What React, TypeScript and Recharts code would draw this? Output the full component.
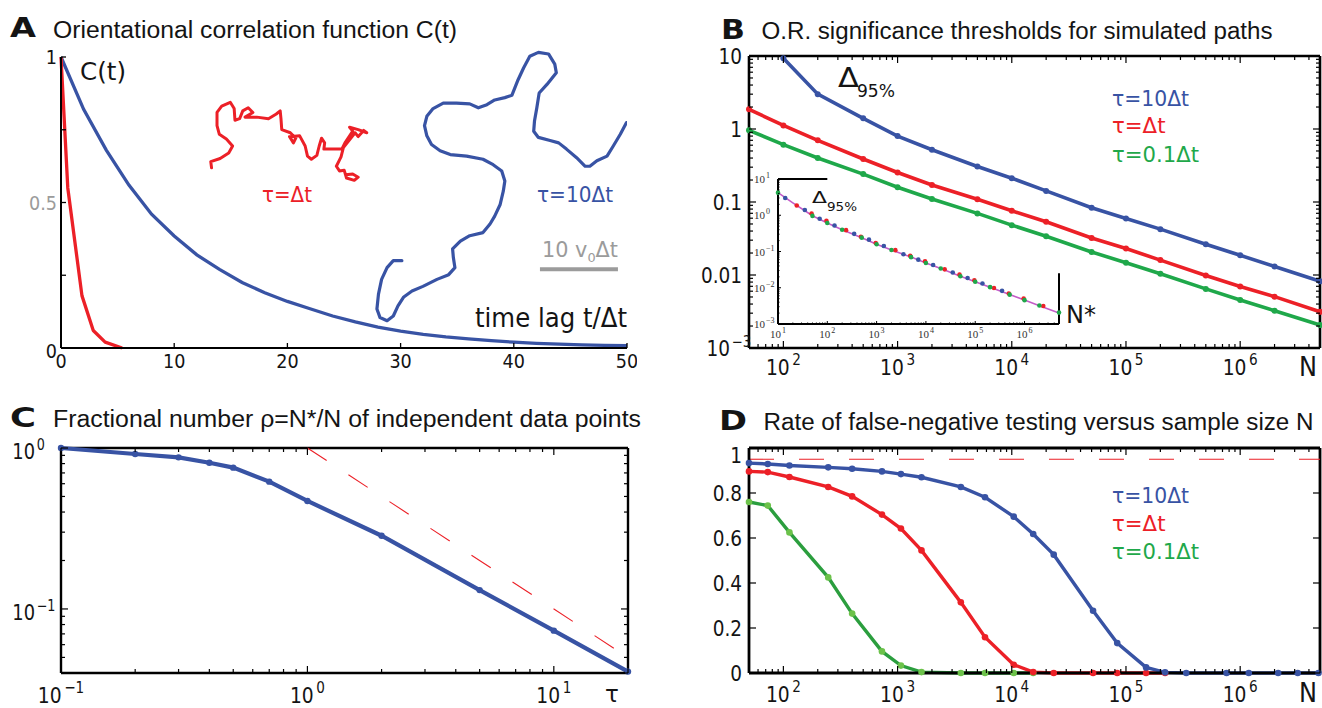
import React from 'react';
import { LineChart, Line, XAxis, YAxis, ReferenceLine } from 'recharts';

const FONT = '"DejaVu Sans", Verdana, sans-serif';
const TFONT = '"Liberation Sans", Arial, sans-serif';
const SERIF = '"Liberation Serif", "DejaVu Serif", serif';

const BLUE = '#3853a4';
const RED = '#ec2027';
const GREEN = '#1fa84a';
const GREEN_D = '#2b9e3e';
const GREEN_DOT = '#6cc24a';
const GREY = '#9b9b9b';
const MAGENTA = '#c45cc8';
const INK = '#141414';

// ---------------- Panel A data ----------------
const tA_blue = [0, 2, 4, 6, 8, 10, 12, 14, 16, 18, 20, 22, 24, 26, 28, 30, 32, 34, 36, 38, 40, 42, 44, 46, 48, 50];
const cA_blue = [1, 0.82, 0.68, 0.56, 0.46, 0.385, 0.32, 0.27, 0.225, 0.19, 0.16, 0.135, 0.11, 0.09, 0.072, 0.058, 0.047, 0.038, 0.031, 0.025, 0.02, 0.016, 0.013, 0.011, 0.009, 0.008];
const tA_red = [0, 0.6, 1.85, 2.85, 3.9, 5.4];
const cA_red = [1, 0.55, 0.18, 0.06, 0.02, 0];
// random-walk paths, in units of v0*dt
const walkRedU = [19.3, 19.2, 20.4, 21.5, 22.0, 21.2, 20.3, 20.0, 20.0, 20.6, 21.7, 22.2, 22.3, 22.9, 23.3, 24.0, 24.6, 23.6, 25.1, 26.6, 27.6, 28.1, 28.2, 28.3, 29.4, 30.1, 29.8, 29.3, 30.6, 31.3, 31.6, 32.1, 32.8, 33.1, 33.4, 33.8, 33.7, 34.7, 36.0, 36.4, 37.0, 37.4, 37.0, 38.1, 39.2, 38.8, 38.1, 37.7, 36.2, 35.9, 35.3, 35.7, 36.3, 36.6, 37.6, 38.1, 37.4, 36.5];
const walkRedV = [23.1, 23.9, 24.3, 25.0, 25.9, 26.8, 27.4, 28.5, 30.2, 31.0, 31.5, 30.7, 29.2, 29.4, 30.4, 30.8, 30.2, 29.6, 29.6, 29.4, 30.0, 30.4, 29.4, 28.0, 27.6, 26.9, 26.3, 27.1, 27.2, 25.9, 24.6, 24.2, 24.7, 25.9, 26.9, 26.3, 25.5, 25.5, 25.5, 26.3, 27.2, 27.8, 28.3, 28.0, 27.6, 27.9, 27.1, 27.6, 25.7, 24.5, 23.3, 22.7, 22.8, 21.8, 21.5, 21.9, 22.3, 22.2];
const walkBlueU = [43.7, 42.6, 41.8, 41.1, 40.7, 40.5, 40.9, 41.8, 42.6, 43.2, 43.9, 45.0, 46.4, 48.2, 49.7, 50.5, 50.3, 50.2, 51.2, 52.4, 54.1, 55.0, 55.6, 56.3, 56.7, 56.9, 56.5, 55.4, 54.1, 52.0, 49.9, 48.6, 47.5, 46.9, 46.6, 46.9, 47.7, 49.0, 50.7, 52.4, 53.5, 54.6, 55.6, 56.9, 57.8, 58.6, 59.3, 60.1, 61.2, 62.5, 63.3, 63.5, 62.3, 61.3, 61.0, 60.7, 60.6, 61.2, 62.7, 63.8, 64.8, 66.1, 67.2, 67.8, 68.7, 70.0, 70.8, 71.7, 72.5];
const walkBlueV = [11.2, 11.2, 10.3, 8.8, 6.9, 5.0, 3.9, 3.5, 4.1, 5.4, 6.5, 7.3, 7.9, 8.8, 9.4, 10.3, 11.6, 12.7, 13.7, 14.4, 14.8, 15.9, 16.9, 18.4, 20.1, 21.4, 22.7, 23.5, 24.2, 24.6, 24.8, 25.3, 26.1, 27.2, 28.5, 29.7, 30.7, 31.4, 31.4, 31.3, 30.8, 31.2, 31.8, 32.1, 32.4, 34.4, 35.9, 37.4, 37.9, 37.7, 36.4, 35.3, 33.8, 32.7, 30.8, 29.1, 27.8, 27.0, 26.6, 26.3, 25.5, 24.4, 23.3, 23.3, 24.0, 24.6, 25.9, 27.4, 28.9];
const scaleBarU = [61.4, 71.4];
const scaleBarV = [10.1, 10.1];
const ticksAx = [0, 10, 20, 30, 40, 50];
const ticksAy = [0, 0.25, 0.5, 0.75, 1];

// ---------------- Panel B data ----------------
const nB = [50, 100, 200, 500, 1000, 2000, 5000, 10000, 20000, 50000, 100000, 200000, 500000, 1000000, 2000000, 5000000];
const nB_blue = [100, 200, 500, 1000, 2000, 5000, 10000, 20000, 50000, 100000, 200000, 500000, 1000000, 2000000, 5000000];
const deltaBlue = [9.3, 3.0, 1.4, 0.8, 0.52, 0.307, 0.212, 0.142, 0.0836, 0.0596, 0.0425, 0.0264, 0.0186, 0.0131, 0.0082];
const deltaRed = [1.86, 1.12, 0.7, 0.388, 0.254, 0.171, 0.109, 0.0758, 0.0535, 0.0322, 0.023, 0.016, 0.00984, 0.00694, 0.00505, 0.00314];
const deltaGreen = [0.96, 0.61, 0.4, 0.241, 0.159, 0.11, 0.0698, 0.0482, 0.034, 0.0207, 0.0147, 0.0104, 0.00645, 0.00455, 0.00324, 0.00206];
// inset: Delta_95% versus N*
const insetLineN = [10, 20, 50, 100, 200, 500, 1000, 2000, 5000, 10000, 20000, 50000, 100000, 200000, 500000, 1000000, 2000000, 5000000];
const insetLineV = [4.2, 2.2, 0.97, 0.61, 0.4, 0.24, 0.159, 0.11, 0.07, 0.048, 0.034, 0.0207, 0.0147, 0.0104, 0.0065, 0.0046, 0.0032, 0.002];
const insetGreenN = [10, 50, 100, 200, 500, 1000, 2000, 5000, 10000, 20000, 50000, 100000, 200000, 500000, 1000000, 2000000, 5000000];
const insetGreenV = [4.2, 0.96, 0.61, 0.4, 0.241, 0.159, 0.11, 0.0698, 0.0482, 0.034, 0.0207, 0.0147, 0.0104, 0.00645, 0.00455, 0.00324, 0.00206];
const insetRedN = [24, 48, 96, 240, 480, 960, 2400, 4800, 9600, 24000, 48000, 96000, 240000, 480000, 960000, 2400000];
const insetRedV = [1.86, 1.12, 0.7, 0.388, 0.254, 0.171, 0.109, 0.0758, 0.0535, 0.0322, 0.023, 0.016, 0.00984, 0.00694, 0.00505, 0.00314];
const insetBlueN = [14, 35, 70, 140, 350, 700, 1400, 3500, 7000, 14000, 35000, 70000, 140000, 350000];
const insetBlueV = [3.0, 1.4, 0.8, 0.52, 0.307, 0.212, 0.142, 0.0836, 0.0596, 0.0425, 0.0264, 0.0186, 0.0131, 0.0082];

// ---------------- Panel C data ----------------
const tauC = [0.1, 0.2, 0.3, 0.4, 0.5, 0.7, 1, 2, 5, 10, 20];
const rhoC = [1.0, 0.918, 0.875, 0.81, 0.755, 0.618, 0.469, 0.285, 0.131, 0.0733, 0.0408];
const tauRef = [1, 19];
const rhoRef = [1, 0.0526];

// ---------------- Panel D data ----------------
const nD = [50, 73, 113, 247, 400, 730, 1070, 1620, 3580, 5830, 10400, 15400, 23300, 51500, 83800, 150000, 220000, 337000, 760000, 1190000, 2150000, 3190000, 4850000];
const fnBlue = [0.933, 0.929, 0.922, 0.914, 0.908, 0.896, 0.884, 0.87, 0.827, 0.781, 0.695, 0.618, 0.526, 0.277, 0.133, 0.025, 0.003, 0, 0, 0, 0, 0, 0];
const nD_red = [50, 73, 113, 247, 400, 730, 1070, 1620, 3580, 5830, 10400, 15400, 23300, 51500, 83800, 150000, 220000];
const fnRed = [0.896, 0.893, 0.871, 0.827, 0.785, 0.704, 0.642, 0.545, 0.314, 0.159, 0.037, 0.004, 0, 0, 0, 0, 0];
const nD_green = [50, 73, 113, 247, 400, 730, 1070, 1620, 3580, 5830, 10400, 15400];
const fnGreen = [0.76, 0.744, 0.625, 0.425, 0.264, 0.096, 0.033, 0.004, 0, 0, 0, 0];
const fnThreshold = 0.95;
const ticksDy = [0, 0.2, 0.4, 0.6, 0.8, 1];

// ---------------- helpers ----------------
const pts = (xs: number[], ys: number[]) => xs.map((x, i) => ({ x, y: ys[i] }));

const logTicks = (lo: number, hi: number) => {
  const out: number[] = [];
  for (let e = Math.floor(Math.log10(lo)) - 1; e <= Math.ceil(Math.log10(hi)); e++) {
    for (let m = 1; m <= 9; m++) {
      const v = parseFloat((m * Math.pow(10, e)).toPrecision(6));
      if (v >= lo * 0.9999 && v <= hi * 1.0001) out.push(v);
    }
  }
  return out;
};

type Lab = { v: number; b: string; s?: string; c?: string; dy?: number };
type TickCfg = {
  labs: Lab[]; major: number; minor: number; box?: number; gap: number; supGap?: number;
  fs: number; sfs?: number; sx: number; off: number; font?: string; color?: string; sw?: number;
  supRaise?: number; supDx?: number;
};

const findLab = (labs: Lab[], v: number) => labs.find((l) => Math.abs(l.v - v) <= Math.abs(l.v) * 1e-6 + 1e-12);

function LeftTick(p: any) {
  const { x, y, payload, cfg } = p as { x: number; y: number; payload: { value: number }; cfg: TickCfg };
  const lab = findLab(cfg.labs, payload.value);
  const len = lab ? cfg.major : cfg.minor;
  const sw = cfg.sw ?? 1.2;
  const fam = cfg.font ?? FONT;
  const col = lab?.c ?? cfg.color ?? INK;
  const ty = y + cfg.off + (lab?.dy ?? 0);
  const sfs = cfg.sfs ?? cfg.fs * 0.7;
  return (
    <g>
      {len > 0 && <line x1={x} y1={y} x2={x + len} y2={y} stroke="#000" strokeWidth={sw} />}
      {cfg.box && len > 0 ? <line x1={x + cfg.box} y1={y} x2={x + cfg.box - len} y2={y} stroke="#000" strokeWidth={sw} /> : null}
      {lab && !lab.s && (
        <text transform={`translate(${x - cfg.gap},${ty}) scale(${cfg.sx},1)`} textAnchor="end" fontSize={cfg.fs} fontFamily={fam} fill={col}>
          {lab.b}
        </text>
      )}
      {lab && lab.s && (
        <g transform={`translate(${x - (cfg.supGap ?? cfg.gap)},${ty}) scale(${cfg.sx},1)`} fill={col} fontFamily={fam}>
          <text textAnchor="end" fontSize={cfg.fs}>{lab.b}</text>
          <text x={cfg.supDx ?? 2} y={-(cfg.supRaise ?? cfg.fs * 0.45)} fontSize={sfs}>{lab.s}</text>
        </g>
      )}
    </g>
  );
}

function BottomTick(p: any) {
  const { x, y, payload, cfg } = p as { x: number; y: number; payload: { value: number }; cfg: TickCfg };
  const lab = findLab(cfg.labs, payload.value);
  const len = lab ? cfg.major : cfg.minor;
  const sw = cfg.sw ?? 1.2;
  const fam = cfg.font ?? FONT;
  const col = lab?.c ?? cfg.color ?? INK;
  const sfs = cfg.sfs ?? cfg.fs * 0.7;
  return (
    <g>
      {len > 0 && <line x1={x} y1={y} x2={x} y2={y - len} stroke="#000" strokeWidth={sw} />}
      {cfg.box && len > 0 ? <line x1={x} y1={y - cfg.box} x2={x} y2={y - cfg.box + len} stroke="#000" strokeWidth={sw} /> : null}
      {lab && (
        <text transform={`translate(${x},${y + cfg.off}) scale(${cfg.sx},1)`} textAnchor="middle" fontSize={cfg.fs} fontFamily={fam} fill={col}>
          {lab.b}
          {lab.s ? (
            <tspan dx={cfg.supDx ?? 2} dy={-(cfg.supRaise ?? cfg.fs * 0.45)} fontSize={sfs}>{lab.s}</tspan>
          ) : null}
        </text>
      )}
    </g>
  );
}

const axisCommon = { interval: 0 as const, tickSize: 0, tickMargin: 0, tickLine: false };

function Box({ l, t, children }: { l: number; t: number; children: React.ReactNode }) {
  return <div style={{ position: 'absolute', left: l, top: t }}>{children}</div>;
}

// ---------------- tick labels ----------------
const labsAx: Lab[] = ticksAx.map((v) => ({ v, b: String(v) }));
const labsAy: Lab[] = [{ v: 1, b: '1' }, { v: 0.5, b: '0.5', c: GREY }, { v: 0, b: '0', dy: 3 }];
const labsLogN: Lab[] = [
  { v: 100, b: '10', s: '2' }, { v: 1000, b: '10', s: '3' }, { v: 10000, b: '10', s: '4' },
  { v: 100000, b: '10', s: '5' }, { v: 1000000, b: '10', s: '6' },
];
const labsBy: Lab[] = [{ v: 10, b: '10' }, { v: 1, b: '1' }, { v: 0.1, b: '0.1' }, { v: 0.01, b: '0.01' }, { v: 0.001, b: '10', s: '−3' }];
const labsCx: Lab[] = [{ v: 0.1, b: '10', s: '−1' }, { v: 1, b: '10', s: '0' }, { v: 10, b: '10', s: '1' }];
const labsCy: Lab[] = [{ v: 1, b: '10', s: '0' }, { v: 0.1, b: '10', s: '−1' }];
const labsDy: Lab[] = [{ v: 0, b: '0' }, { v: 0.2, b: '0.2' }, { v: 0.4, b: '0.4' }, { v: 0.6, b: '0.6' }, { v: 0.8, b: '0.8' }, { v: 1, b: '1', dy: 7 }];
const labsInsX: Lab[] = [
  { v: 10, b: '10', s: '1' }, { v: 100, b: '10', s: '2' }, { v: 1000, b: '10', s: '3' },
  { v: 10000, b: '10', s: '4' }, { v: 100000, b: '10', s: '5' }, { v: 1000000, b: '10', s: '6' },
];
const labsInsY: Lab[] = [
  { v: 10, b: '10', s: '1' }, { v: 1, b: '10', s: '0' }, { v: 0.1, b: '10', s: '−1' },
  { v: 0.01, b: '10', s: '−2' }, { v: 0.001, b: '10', s: '−3' },
];

// ---------------- geometry ----------------
const GA = { L: 61, T: 57, W: 566, H: 291, M: 24 };
const GB = { L: 749, T: 56, W: 571, H: 292, M: 24 };
const GC = { L: 61, T: 448, W: 567, H: 225, M: 16 };
const GD = { L: 749, T: 448, W: 571, H: 225, M: 10 };
const GI = { L: 778, T: 179, W: 281, H: 145, M: 14 };

function PanelA() {
  const cx: TickCfg = { labs: labsAx, major: 5, minor: 5, gap: 0, fs: 20, sx: 0.88, off: 20, sw: 1.3 };
  const cy: TickCfg = { labs: labsAy, major: 5, minor: 5, gap: 4, fs: 20, sx: 0.88, off: 7, sw: 1.3 };
  return (
    <Box l={GA.L - 60} t={GA.T - GA.M}>
      <LineChart width={60 + GA.W + 10} height={GA.M + GA.H + 40} margin={{ top: GA.M, right: 10, bottom: 0, left: 0 }}>
        <XAxis type="number" dataKey="x" domain={[0, 50]} ticks={ticksAx} height={40} {...axisCommon}
          axisLine={{ stroke: '#000', strokeWidth: 2 }} tick={<BottomTick cfg={cx} />} />
        <YAxis type="number" domain={[0, 1]} ticks={ticksAy} width={60} {...axisCommon}
          axisLine={{ stroke: '#000', strokeWidth: 2 }} tick={<LeftTick cfg={cy} />} />
        <Line data={pts(tA_blue, cA_blue)} dataKey="y" type="linear" stroke={BLUE} strokeWidth={3.3} dot={false} isAnimationActive={false} />
        <Line data={pts(tA_red, cA_red)} dataKey="y" type="linear" stroke={RED} strokeWidth={3.3} dot={false} isAnimationActive={false} strokeLinejoin="round" />
      </LineChart>
    </Box>
  );
}

function WalksA() {
  // same horizontal plot range as panel A, slightly taller, 7.8 px per v0*dt in both directions
  return (
    <Box l={GA.L} t={40}>
      <LineChart width={566} height={308} margin={{ top: 0, right: 0, bottom: 0, left: 0 }}>
        <XAxis type="number" dataKey="x" domain={[0, 72.56]} hide />
        <YAxis type="number" domain={[0, 39.49]} hide />
        <Line data={pts(walkRedU, walkRedV)} dataKey="y" type="linear" stroke={RED} strokeWidth={3} dot={false} isAnimationActive={false} strokeLinejoin="round" strokeLinecap="round" />
        <Line data={pts(walkBlueU, walkBlueV)} dataKey="y" type="linear" stroke={BLUE} strokeWidth={3.2} dot={false} isAnimationActive={false} strokeLinejoin="round" strokeLinecap="round" />
        <Line data={pts(scaleBarU, scaleBarV)} dataKey="y" type="linear" stroke={GREY} strokeWidth={4} dot={false} isAnimationActive={false} />
      </LineChart>
    </Box>
  );
}

function PanelB() {
  const cx: TickCfg = { labs: labsLogN, major: 7, minor: 4, box: GB.H, gap: 0, fs: 22, sfs: 16, sx: 0.85, off: 27, supDx: 3, supRaise: 10 };
  const cy: TickCfg = { labs: labsBy, major: 7, minor: 4, box: GB.W, gap: 7, supGap: 19, fs: 21, sfs: 15, sx: 0.88, off: 7.5, supRaise: 9 };
  return (
    <Box l={GB.L - 60} t={GB.T - GB.M}>
      <LineChart width={60 + GB.W + 2} height={GB.M + GB.H + 40} margin={{ top: GB.M, right: 2, bottom: 0, left: 0 }}>
        <XAxis type="number" dataKey="x" scale="log" domain={[50, 5000000]} ticks={logTicks(50, 5000000)} height={40} {...axisCommon}
          axisLine={{ stroke: '#000', strokeWidth: 2.6 }} tick={<BottomTick cfg={cx} />} />
        <YAxis type="number" scale="log" domain={[0.001, 10]} ticks={logTicks(0.001, 10)} width={60} {...axisCommon}
          axisLine={{ stroke: '#000', strokeWidth: 2.6 }} tick={<LeftTick cfg={cy} />} />
        <ReferenceLine y={10} stroke="#000" strokeWidth={2.6} ifOverflow="visible" />
        <ReferenceLine x={5000000} stroke="#000" strokeWidth={2.6} ifOverflow="visible" />
        <Line data={pts(nB, deltaGreen)} dataKey="y" type="linear" stroke={GREEN} strokeWidth={3.6} isAnimationActive={false}
          dot={{ r: 3, fill: GREEN, stroke: 'none' }} />
        <Line data={pts(nB, deltaRed)} dataKey="y" type="linear" stroke={RED} strokeWidth={3.6} isAnimationActive={false}
          dot={{ r: 3, fill: RED, stroke: 'none' }} />
        <Line data={pts(nB_blue, deltaBlue)} dataKey="y" type="linear" stroke={BLUE} strokeWidth={3.6} isAnimationActive={false}
          dot={{ r: 3, fill: BLUE, stroke: 'none' }} />
      </LineChart>
    </Box>
  );
}

function InsetB() {
  const cx: TickCfg = { labs: labsInsX, major: 3, minor: 1.5, gap: 0, fs: 11, sfs: 8, sx: 1, off: 14, font: SERIF, color: '#333', supDx: 1, supRaise: 5, sw: 1 };
  const cy: TickCfg = { labs: labsInsY, major: 3, minor: 1.5, gap: 4, supGap: 13, fs: 11, sfs: 8, sx: 1, off: 4, font: SERIF, color: '#333', supDx: 1, supRaise: 5, sw: 1 };
  return (
    <Box l={GI.L - 40} t={GI.T - GI.M}>
      <LineChart width={40 + GI.W + 4} height={GI.M + GI.H + 25} margin={{ top: GI.M, right: 4, bottom: 0, left: 0 }}>
        <XAxis type="number" dataKey="x" scale="log" domain={[10, 5000000]} ticks={logTicks(10, 5000000)} height={25} {...axisCommon}
          axisLine={{ stroke: '#000', strokeWidth: 2 }} tick={<BottomTick cfg={cx} />} />
        <YAxis type="number" scale="log" domain={[0.001, 10]} ticks={logTicks(0.001, 10)} width={40} {...axisCommon}
          axisLine={{ stroke: '#000', strokeWidth: 2 }} tick={<LeftTick cfg={cy} />} />
        <ReferenceLine segment={[{ x: 10, y: 10 }, { x: 100, y: 10 }]} stroke="#000" strokeWidth={2} ifOverflow="visible" />
        <ReferenceLine segment={[{ x: 5000000, y: 0.001 }, { x: 5000000, y: 0.025 }]} stroke="#000" strokeWidth={2} ifOverflow="visible" />
        <Line data={pts(insetLineN, insetLineV)} dataKey="y" type="linear" stroke={MAGENTA} strokeWidth={1.6} dot={false} isAnimationActive={false} />
        <Line data={pts(insetBlueN, insetBlueV)} dataKey="y" stroke="none" isAnimationActive={false} dot={{ r: 2.3, fill: BLUE, stroke: 'none' }} />
        <Line data={pts(insetRedN, insetRedV)} dataKey="y" stroke="none" isAnimationActive={false} dot={{ r: 2.3, fill: RED, stroke: 'none' }} />
        <Line data={pts(insetGreenN, insetGreenV)} dataKey="y" stroke="none" isAnimationActive={false} dot={{ r: 2.3, fill: GREEN, stroke: 'none' }} />
      </LineChart>
    </Box>
  );
}

function PanelC() {
  const cx: TickCfg = { labs: labsCx, major: 7, minor: 4, box: GC.H, gap: 0, fs: 22, sfs: 16, sx: 0.85, off: 30, supDx: 3, supRaise: 10 };
  const cy: TickCfg = { labs: labsCy, major: 7, minor: 4, box: GC.W, gap: 7, supGap: 26, fs: 21, sfs: 15, sx: 0.85, off: 11, supRaise: 9 };
  return (
    <Box l={GC.L - 60} t={GC.T - GC.M}>
      <LineChart width={60 + GC.W + 10} height={GC.M + GC.H + 40} margin={{ top: GC.M, right: 10, bottom: 0, left: 0 }}>
        <XAxis type="number" dataKey="x" scale="log" domain={[0.1, 20]} ticks={logTicks(0.1, 20)} height={40} {...axisCommon}
          axisLine={{ stroke: '#000', strokeWidth: 2.4 }} tick={<BottomTick cfg={cx} />} />
        <YAxis type="number" scale="log" domain={[0.04, 1]} ticks={logTicks(0.04, 1)} width={60} {...axisCommon}
          axisLine={{ stroke: '#000', strokeWidth: 2.4 }} tick={<LeftTick cfg={cy} />} />
        <ReferenceLine y={1} stroke="#000" strokeWidth={2.4} ifOverflow="visible" />
        <ReferenceLine x={20} stroke="#000" strokeWidth={2.4} ifOverflow="visible" />
        <Line data={pts(tauRef, rhoRef)} dataKey="y" type="linear" stroke={RED} strokeWidth={1.1} strokeDasharray="23 26" dot={false} isAnimationActive={false} />
        <Line data={pts(tauC, rhoC)} dataKey="y" type="linear" stroke={BLUE} strokeWidth={4.2} isAnimationActive={false}
          dot={{ r: 3.2, fill: BLUE, stroke: 'none' }} />
      </LineChart>
    </Box>
  );
}

function PanelD() {
  const cx: TickCfg = { labs: labsLogN, major: 7, minor: 4, box: GD.H, gap: 0, fs: 22, sfs: 16, sx: 0.85, off: 29, supDx: 3, supRaise: 10 };
  const cy: TickCfg = { labs: labsDy, major: 7, minor: 0, box: GD.W, gap: 7, fs: 21, sx: 0.88, off: 7.5 };
  return (
    <Box l={GD.L - 60} t={GD.T - GD.M}>
      <LineChart width={60 + GD.W + 2} height={GD.M + GD.H + 40} margin={{ top: GD.M, right: 2, bottom: 0, left: 0 }}>
        <XAxis type="number" dataKey="x" scale="log" domain={[50, 5000000]} ticks={logTicks(50, 5000000)} height={40} {...axisCommon}
          axisLine={{ stroke: '#000', strokeWidth: 2.8 }} tick={<BottomTick cfg={cx} />} />
        <YAxis type="number" domain={[0, 1]} ticks={ticksDy} width={60} {...axisCommon}
          axisLine={{ stroke: '#000', strokeWidth: 2.8 }} tick={<LeftTick cfg={cy} />} />
        <ReferenceLine y={1} stroke="#000" strokeWidth={2.8} ifOverflow="visible" />
        <ReferenceLine x={5000000} stroke="#000" strokeWidth={2.8} ifOverflow="visible" />
        <ReferenceLine y={fnThreshold} stroke={RED} strokeWidth={1.1} strokeDasharray="25 25" ifOverflow="visible" />
        <Line data={pts(nD_green, fnGreen)} dataKey="y" type="linear" stroke={GREEN_D} strokeWidth={3.4} isAnimationActive={false}
          dot={{ r: 3.3, fill: GREEN_DOT, stroke: 'none' }} />
        <Line data={pts(nD_red, fnRed)} dataKey="y" type="linear" stroke={RED} strokeWidth={3.4} isAnimationActive={false}
          dot={{ r: 3.3, fill: RED, stroke: 'none' }} />
        <Line data={pts(nD, fnBlue)} dataKey="y" type="linear" stroke={BLUE} strokeWidth={3.4} isAnimationActive={false}
          dot={{ r: 3.3, fill: BLUE, stroke: 'none' }} />
      </LineChart>
    </Box>
  );
}

function T(props: { x: number; y: number; fs: number; w?: number; fill?: string; bold?: boolean; anchor?: 'start' | 'middle' | 'end'; font?: string; children: React.ReactNode }) {
  const { x, y, fs, w, fill = INK, bold, anchor = 'start', font = FONT, children } = props;
  return (
    <text x={x} y={y} fontSize={fs} fill={fill} fontFamily={font} fontWeight={bold ? 900 : 400} textAnchor={anchor}
      {...(w ? { textLength: w, lengthAdjust: 'spacingAndGlyphs' } : {})}>
      {children}
    </text>
  );
}

function Overlay() {
  return (
    <svg width={1322} height={708} style={{ position: 'absolute', left: 0, top: 0, pointerEvents: 'none' }}>
      {/* titles */}
      <T x={10} y={37} fs={27} w={26} bold>A</T>
      <T x={53} y={37.5} fs={23} w={404} font={TFONT}>Orientational correlation function C(t)</T>
      <T x={721} y={38.5} fs={27} w={24} bold>B</T>
      <T x={761.5} y={38.5} fs={23} w={511} font={TFONT}>O.R. significance thresholds for simulated paths</T>
      <T x={10} y={427} fs={27} w={26} bold>C</T>
      <T x={53} y={427} fs={23} w={588} font={TFONT}>Fractional number ρ=N*/N of independent data points</T>
      <T x={719} y={430} fs={27} w={28} bold>D</T>
      <T x={763.5} y={430} fs={23} w={550} font={TFONT}>Rate of false-negative testing versus sample size N</T>

      {/* panel A annotations */}
      <T x={80} y={80} fs={25} w={46}>C(t)</T>
      <T x={262} y={202} fs={21} w={50} fill={RED}>τ=Δt</T>
      <T x={537} y={202} fs={21} w={76} fill={BLUE}>τ=10Δt</T>
      <T x={542} y={257} fs={21} w={76} fill={GREY}>
        10 v<tspan dy={5} fontSize={13}>0</tspan><tspan dy={-5}>Δt</tspan>
      </T>
      <T x={475} y={327} fs={26} w={152}>time lag t/Δt</T>

      {/* panel B annotations */}
      <T x={838} y={87} fs={26} w={21}>Δ</T>
      <T x={857} y={97} fs={17} w={38}>95%</T>
      <T x={1112} y={106} fs={21} w={77} fill={BLUE}>τ=10Δt</T>
      <T x={1112} y={133} fs={21} w={53.5} fill={RED}>τ=Δt</T>
      <T x={1112} y={162} fs={21} w={87} fill={GREEN}>τ=0.1Δt</T>
      <T x={1299} y={376} fs={26} w={18}>N</T>
      <T x={812} y={203} fs={16} w={15}>Δ</T>
      <T x={827} y={211} fs={12} w={30}>95%</T>
      <T x={1066} y={323} fs={24} w={30}>N*</T>

      {/* panel C annotations */}
      <T x={612} y={702} fs={23} anchor="middle">τ</T>

      {/* panel D annotations */}
      <T x={1112} y={503} fs={21} w={77} fill={BLUE}>τ=10Δt</T>
      <T x={1112} y={531} fs={21} w={53.5} fill={RED}>τ=Δt</T>
      <T x={1112} y={559} fs={21} w={87} fill={GREEN}>τ=0.1Δt</T>
      <T x={1299} y={702} fs={26} w={18}>N</T>
    </svg>
  );
}

export default function App() {
  return (
    <div style={{ position: 'absolute', left: 0, top: 0, width: 1322, height: 708, overflow: 'hidden', background: '#fff', fontFamily: FONT }}>
      <PanelA />
      <WalksA />
      <PanelB />
      <InsetB />
      <PanelC />
      <PanelD />
      <Overlay />
    </div>
  );
}
